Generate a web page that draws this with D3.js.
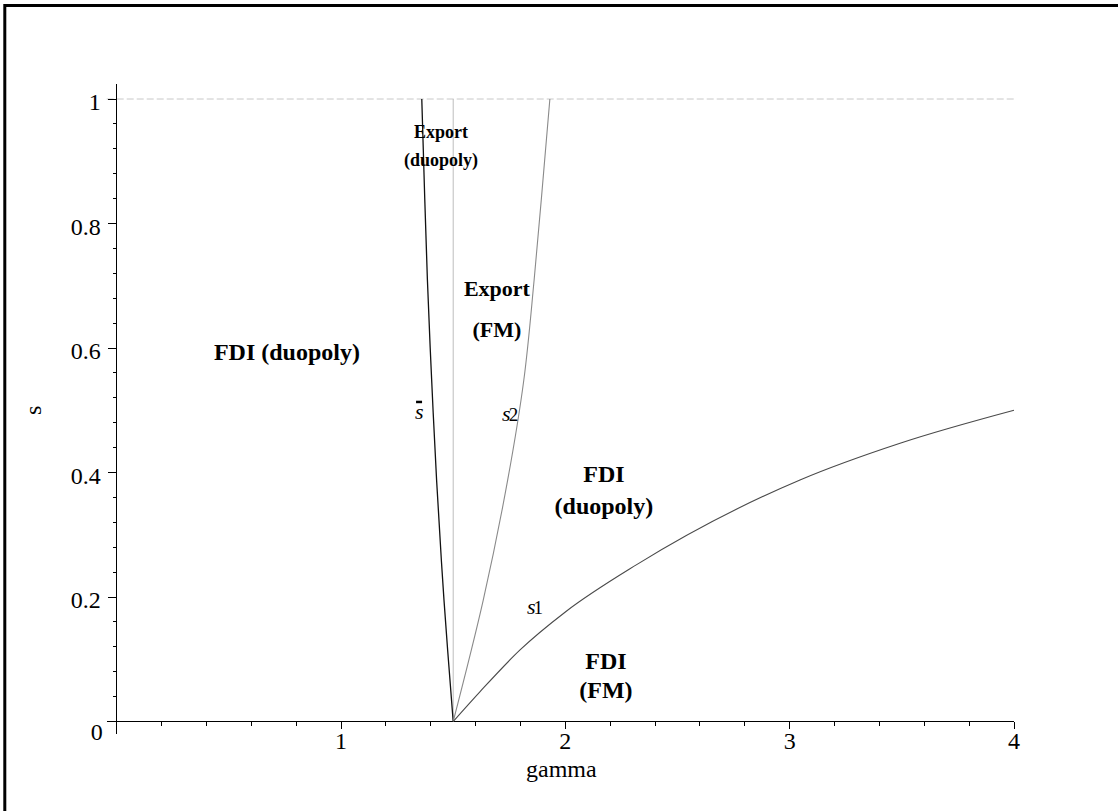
<!DOCTYPE html>
<html>
<head>
<meta charset="utf-8">
<script src="https://cdn.jsdelivr.net/npm/d3@7/dist/d3.min.js"></script>
<style>
  body { margin: 0; background: #fff; }
  text { font-family: "Liberation Serif", "Times New Roman", Times, serif; fill: #000; }
</style>
</head>
<body>
<svg width="1118" height="811" font-family="Liberation Serif, Times New Roman, serif"></svg>
<script>
// axis ticks
var xMajor = [1, 2, 3, 4];
var yMajor = [0.2, 0.4, 0.6, 0.8, 1];

// s-bar boundary (gamma as function of s)
var sBarS     = [0, 0.195, 0.388, 0.549, 0.710, 1.0];
var sBarGamma = [1.5, 1.459, 1.426, 1.404, 1.385, 1.360];

// s2 boundary
var s2S     = [0, 0.195, 0.388, 0.549, 0.710, 1.0];
var s2Gamma = [1.5, 1.634, 1.743, 1.815, 1.861, 1.931];

// s1 boundary
var s1Gamma = [1.5, 1.62, 1.798, 2.0, 2.318, 3.046, 3.492, 4.0];
var s1S     = [0, 0.048, 0.115, 0.176, 0.252, 0.388, 0.447, 0.500];

// region labels: lines, gamma, s of each baseline, font size
var regionText  = [["Export", "(duopoly)"], ["Export", "(FM)"], ["FDI (duopoly)"], ["FDI", "(duopoly)"], ["FDI", "(FM)"]];
var regionGamma = [1.446, 1.695, 0.759, 2.172, 2.181];
var regionS     = [[0.938, 0.893], [0.684, 0.618], [0.581], [0.385, 0.334], [0.0844, 0.038]];
var regionSize  = [18, 22, 24, 24, 24];

var svg = d3.select("svg");

var x = d3.scaleLinear().domain([0, 4]).range([116.7, 1014]);
var y = d3.scaleLinear().domain([0, 1]).range([721.5, 99]);

// frame
svg.append("rect")
   .attr("x", 4.8).attr("y", 5.5)
   .attr("width", 1300).attr("height", 1000)
   .attr("fill", "none")
   .attr("stroke", "#000")
   .attr("stroke-width", 3);

// dashed line at s = 1
svg.append("line")
   .attr("x1", x(0) - 10).attr("x2", x(4))
   .attr("y1", y(1)).attr("y2", y(1))
   .attr("stroke", "#c8c8c8")
   .attr("stroke-dasharray", "7,3");

// vertical line at gamma = 1.5
svg.append("line")
   .attr("x1", x(1.5)).attr("x2", x(1.5))
   .attr("y1", y(1)).attr("y2", y(0))
   .attr("stroke", "#bdbdbd");

// axes
var xMinor = d3.range(0.2, 4.001, 0.2).filter(function(d) { return Math.abs(d - Math.round(d)) > 1e-6; });
var yMinor = d3.range(0.04, 1.001, 0.04).filter(function(d) { return Math.abs(d * 5 - Math.round(d * 5)) > 1e-6; });

var axisG = svg.append("g").attr("stroke", "#000").attr("shape-rendering", "crispEdges");

axisG.append("line")
     .attr("x1", x(0) - 10).attr("x2", x(4))
     .attr("y1", y(0)).attr("y2", y(0));
axisG.append("line")
     .attr("x1", x(0)).attr("x2", x(0))
     .attr("y1", y(1) - 15).attr("y2", y(0) + 12);

axisG.selectAll(".xmaj").data(xMajor).enter().append("line")
     .attr("x1", function(d) { return x(d); }).attr("x2", function(d) { return x(d); })
     .attr("y1", y(0)).attr("y2", y(0) + 7);
axisG.selectAll(".xmin").data(xMinor).enter().append("line")
     .attr("x1", function(d) { return x(d); }).attr("x2", function(d) { return x(d); })
     .attr("y1", y(0)).attr("y2", y(0) + 4);
axisG.selectAll(".ymaj").data(yMajor).enter().append("line")
     .attr("x1", x(0) - 9).attr("x2", x(0))
     .attr("y1", function(d) { return y(d); }).attr("y2", function(d) { return y(d); });
axisG.selectAll(".ymin").data(yMinor).enter().append("line")
     .attr("x1", x(0) - 4).attr("x2", x(0))
     .attr("y1", function(d) { return y(d); }).attr("y2", function(d) { return y(d); });

svg.selectAll(".xlab").data(xMajor).enter().append("text")
   .attr("x", function(d) { return x(d); })
   .attr("y", y(0) + 27.5)
   .attr("text-anchor", "middle")
   .attr("font-size", 24)
   .text(function(d) { return d; });

svg.selectAll(".ylab").data(yMajor).enter().append("text")
   .attr("x", x(0) - 16)
   .attr("y", function(d) { return y(d) + 11; })
   .attr("text-anchor", "end")
   .attr("font-size", 24)
   .text(function(d) { return d; });

svg.append("text")
   .attr("x", x(0) - 14).attr("y", y(0) + 18.5)
   .attr("text-anchor", "end")
   .attr("font-size", 24)
   .text("0");

svg.append("text")
   .attr("x", (x(0) + x(4)) / 2 - 4).attr("y", 777)
   .attr("text-anchor", "middle")
   .attr("font-size", 24)
   .text("gamma");

svg.append("text")
   .attr("transform", "translate(41," + y(0.5) + ") rotate(-90)")
   .attr("text-anchor", "middle")
   .attr("font-size", 24)
   .text("s");

// curves
var lineGS = d3.line()
  .x(function(d) { return x(d[0]); })
  .y(function(d) { return y(d[1]); });

svg.append("path")
   .datum(d3.zip(sBarGamma, sBarS))
   .attr("d", lineGS.curve(d3.curveCatmullRom.alpha(0.5)))
   .attr("fill", "none").attr("stroke", "#111").attr("stroke-width", 1.3);

svg.append("path")
   .datum(d3.zip(s2Gamma, s2S))
   .attr("d", lineGS.curve(d3.curveCatmullRom.alpha(0.5)))
   .attr("fill", "none").attr("stroke", "#8a8a8a").attr("stroke-width", 1.1);

svg.append("path")
   .datum(d3.zip(s1Gamma, s1S))
   .attr("d", lineGS.curve(d3.curveMonotoneX))
   .attr("fill", "none").attr("stroke", "#4a4a4a").attr("stroke-width", 1.1);

// region labels
regionText.forEach(function(lines, i) {
  lines.forEach(function(t, j) {
    svg.append("text")
       .attr("x", x(regionGamma[i]))
       .attr("y", y(regionS[i][j]))
       .attr("text-anchor", "middle")
       .attr("font-size", regionSize[i])
       .attr("font-weight", "bold")
       .text(t);
  });
});

// curve labels
svg.append("text")
   .attr("x", x(1.330)).attr("y", y(0.486))
   .attr("font-size", 22).attr("font-style", "italic")
   .text("s");
svg.append("line")
   .attr("x1", x(1.330) + 1).attr("x2", x(1.330) + 7)
   .attr("y1", y(0.486) - 17).attr("y2", y(0.486) - 17)
   .attr("stroke", "#000").attr("stroke-width", 2.5);

[["2", 1.718, 0.483], ["1", 1.829, 0.173]].forEach(function(d) {
  var t = svg.append("text")
     .attr("x", x(d[1])).attr("y", y(d[2]))
     .attr("font-size", 22);
  t.append("tspan").attr("font-style", "italic").text("s");
  t.append("tspan").attr("dx", -2).attr("font-size", 19).text(d[0]);
});
</script>
</body>
</html>
